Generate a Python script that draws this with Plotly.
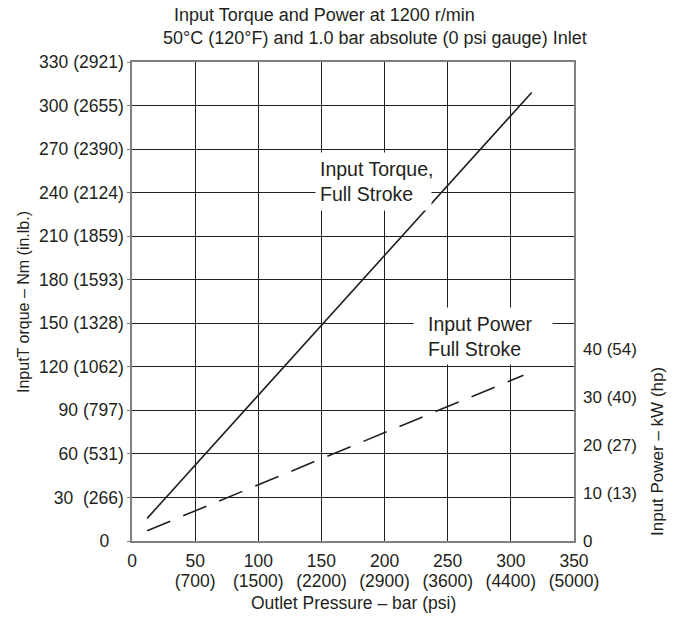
import plotly.graph_objects as go

# ---- data ----
pressure_torque = [12, 316.5]          # bar
torque_nm = [15.6, 309]                # Nm
pressure_power = [12, 310]             # bar
power_kw = [2.15, 34.6]                # kW

x_tickvals = [0, 50, 100, 150, 200, 250, 300, 350]
x_bar_labels = ["0", "50", "100", "150", "200", "250", "300", "350"]
x_psi_vals = [50, 100, 150, 200, 250, 300, 350]
x_psi_labels = ["(700)", "(1500)", "(2200)", "(2900)", "(3600)", "(4400)", "(5000)"]

y_tickvals = [0, 30, 60, 90, 120, 150, 180, 210, 240, 270, 300, 330]
y_ticklabels = ["0\u00a0\u00a0\u00a0", "30\u00a0\u00a0(266)", "60 (531)", "90 (797)", "120 (1062)",
                "150 (1328)", "180 (1593)", "210 (1859)", "240 (2124)", "270 (2390)",
                "300 (2655)", "330 (2921)"]

y2_tickvals = [0, 10, 20, 30, 40]
y2_ticklabels = ["0", "10 (13)", "20 (27)", "30 (40)", "40 (54)"]

FONT = "Liberation Sans, Arial, sans-serif"
INK = "#231f20"
FRAME = "#7f7f7f"

# plot area target (page pixels); page body margin is removed below
L, R, T, B = 132, 574, 62, 541
W, H = 677, 619


def px(xp):
    return (xp - L) / (R - L)


def py(yp):
    return (B - yp) / (B - T)


def bar(xp):
    return (xp - L) / (R - L) * 350


def nm(yp):
    return (B - yp) / (B - T) * 330


fig = go.Figure()
fig.add_trace(go.Scatter(x=pressure_torque, y=torque_nm, mode="lines",
                         line=dict(color=INK, width=1.6), xaxis="x", yaxis="y",
                         showlegend=False, hoverinfo="skip"))
fig.add_trace(go.Scatter(x=pressure_power, y=power_kw, mode="lines",
                         line=dict(color=INK, width=1.6, dash="25px,14px"),
                         xaxis="x2", yaxis="y2", showlegend=False, hoverinfo="skip"))

annotations = [
    dict(text="Input Torque and Power at 1200 r/min", xref="paper", yref="paper",
         x=px(172), y=py(15), xanchor="left", yanchor="middle",
         showarrow=False, font=dict(size=18, color=INK)),
    dict(text="50°C (120°F) and 1.0 bar absolute (0 psi gauge) Inlet", xref="paper", yref="paper",
         x=px(161), y=py(38), xanchor="left", yanchor="middle",
         showarrow=False, font=dict(size=18, color=INK)),
    dict(text="Outlet Pressure – bar (psi)", xref="paper", yref="paper",
         x=0.5, y=py(603), xanchor="center", yanchor="middle",
         showarrow=False, font=dict(size=17.5, color=INK)),
    dict(text="InputT orque – Nm (in.lb.)", xref="paper", yref="paper",
         x=px(23), y=py(302), xanchor="center", yanchor="middle",
         textangle=-90, showarrow=False, font=dict(size=16, color=INK)),
    dict(text="Input Power – kW (hp)", xref="paper", yref="paper",
         x=px(658), y=py(452), xanchor="center", yanchor="middle",
         textangle=-90, showarrow=False, font=dict(size=17, color=INK)),
    # white label boxes
    dict(text="\u00a0", xref="x", yref="y", x=bar(315), y=nm(152), xanchor="left", yanchor="top",
         width=115, height=57, borderpad=0, bgcolor="white", showarrow=False),
    dict(text="\u00a0", xref="x", yref="y", x=bar(413), y=nm(307), xanchor="left", yanchor="top",
         width=138, height=56, borderpad=0, bgcolor="white", showarrow=False),
    # label texts
    dict(text="Input Torque,<br>Full Stroke", xref="x", yref="y",
         x=bar(318), y=nm(181.5), xanchor="left", yanchor="middle", align="left",
         showarrow=False, font=dict(size=19.5, color=INK)),
    dict(text="Input Power<br>Full Stroke", xref="x", yref="y",
         x=bar(426), y=nm(336.5), xanchor="left", yanchor="middle", align="left",
         showarrow=False, font=dict(size=19.5, color=INK)),
]

fig.update_layout(
    width=W, height=H,
    margin=dict(l=L, r=W - R, t=T, b=H - B, pad=0),
    paper_bgcolor="white", plot_bgcolor="white",
    font=dict(family=FONT, size=17, color=INK),
    xaxis=dict(range=[0, 350], tickvals=x_tickvals, ticktext=x_bar_labels,
               showgrid=True, gridcolor=INK, gridwidth=1.2,
               showline=True, linecolor=FRAME, linewidth=1.5, mirror=True,
               ticks="", zeroline=False, ticklabelstandoff=3, automargin=False,
               tickfont=dict(size=17.5, color=INK)),
    xaxis2=dict(range=[0, 350], overlaying="x", anchor="y2", side="bottom",
                tickvals=x_psi_vals, ticktext=x_psi_labels, showgrid=False,
                showline=False, ticks="", zeroline=False, ticklabelstandoff=27,
                automargin=False, tickfont=dict(size=17.5, color=INK)),
    yaxis=dict(range=[0, 330], tickvals=y_tickvals, ticktext=y_ticklabels,
               showgrid=True, gridcolor=INK, gridwidth=1.2,
               showline=True, linecolor=FRAME, linewidth=1.5, mirror=True,
               ticks="outside", ticklen=3, tickcolor=FRAME, zeroline=False,
               automargin=False, tickfont=dict(size=17.5, color=INK)),
    yaxis2=dict(range=[0, 100], overlaying="y", side="right", anchor="x",
                tickvals=y2_tickvals, ticktext=y2_ticklabels, showgrid=False,
                showline=False, ticks="", zeroline=False, ticklabelstandoff=8,
                automargin=False, tickfont=dict(size=17, color=INK)),
    annotations=annotations,
)

fig.write_html("out.html", config={"displayModeBar": False},
               post_script="document.body.style.margin='0';")
